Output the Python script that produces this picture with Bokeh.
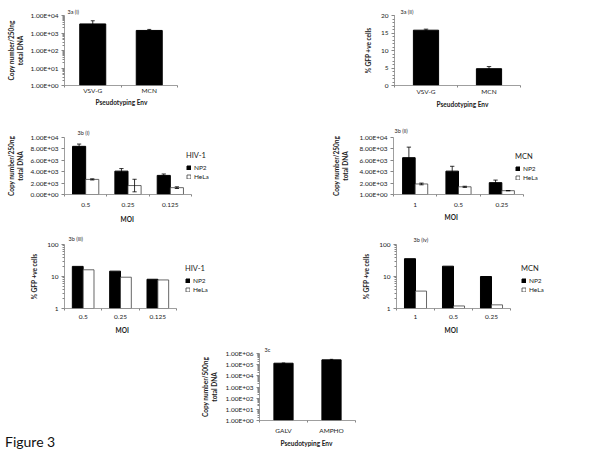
import math
from bokeh.plotting import figure
from bokeh.models import (Range1d, Legend, LegendItem, FixedTicker, Title, Div,
                          CustomJSTickFormatter, ColumnDataSource)
from bokeh.layouts import row, column
from bokeh.embed import file_html
from bokeh.resources import INLINE

FONT = "Lato"

# ---------------- data ----------------
env_a = ["VSV-G", "MCN"]
copies_a = [3300, 1400]
copies_a_err = [1700, 200]
gfp_a = [15.8, 4.8]
gfp_a_err = [0.3, 0.6]

moi_hiv = ["0.5", "0.25", "0.125"]
hiv_copies_np2 = [8450, 4100, 3350]
hiv_copies_np2_err = [400, 450, 250]
hiv_copies_hela = [2650, 1570, 1200]
hiv_copies_hela_err = [100, 1100, 150]

moi_mcn = ["1", "0.5", "0.25"]
mcn_copies_np2 = [6460, 4100, 2080]
mcn_copies_np2_err = [1850, 850, 450]
mcn_copies_hela = [1850, 1350, 670]
mcn_copies_hela_err = [150, 100, 0]

hiv_gfp_np2 = [20.7, 14.7, 8.2]
hiv_gfp_hela = [16.2, 9.5, 7.8]
mcn_gfp_np2 = [36, 21, 10]
mcn_gfp_hela = [3.5, 1.2, 1.3]

env_c = ["GALV", "AMPHO"]
copies_c = [1.35e5, 2.7e5]
copies_c_err = [0, 3e4]

ticks_log4 = [1, 10, 100, 1000, 10000]
ticks_gfp = [0, 5, 10, 15, 20]
ticks_lin_b1 = [0, 2000, 4000, 6000, 8000, 10000]
ticks_lin_b2 = [1, 2000, 4000, 6000, 8000, 10000]
ticks_log2 = [1, 10, 100]
ticks_log6 = [1, 10, 100, 1000, 10000, 100000, 1000000]

AXIS_COL = "#868686"
TXT = "#222222"
GEO = {}
# approximate rendered widths (px) of the bold x titles, used to centre them
TITLE_W = {"Pseudotyping Env": 50, "MOI": 12}


def efmt():
    return CustomJSTickFormatter(code="""
const s = tick.toExponential(2).toUpperCase();
const i = s.indexOf('E');
let e = s.slice(i + 2);
if (e.length < 2) { e = '0' + e; }
return s.slice(0, i) + 'E' + s[i + 1] + e;
""")


def plainfmt():
    return CustomJSTickFormatter(code="return String(Math.round(tick));")


def log_minor(ticks):
    out = []
    for t in ticks[:-1]:
        out += [t * k for k in range(2, 10)]
    return out


def make_panel(ox, oy, w, h, ax_x, ax_y, ax_top, ax_right, cats, ytype, y0, y1,
               yticks, yminor, yfmt, ylabel, xlabel, xl_center, tag, tag_x, tag_standoff,
               xt_standoff, xl_standoff, yt_standoff):
    n = len(cats)
    left = ax_x - ox
    top = ax_top - oy
    bottom = oy + h - ax_y
    fw = ox + w - ax_x
    rx = fw / (ax_right - ax_x)
    p = figure(width=w, height=h, x_range=Range1d(0, n * rx), y_range=Range1d(y0, y1),
               y_axis_type=ytype, output_backend="svg", toolbar_location=None, title=None,
               min_border_left=left, min_border_bottom=bottom, min_border_top=top,
               min_border_right=0)
    p.outline_line_color = None
    p.grid.visible = False
    p.background_fill_color = "white"
    p.border_fill_color = "white"
    xa, ya = p.xaxis[0], p.yaxis[0]
    xa.bounds = (0, n)
    xa.ticker = FixedTicker(ticks=[i + 0.5 for i in range(n)], minor_ticks=list(range(n + 1)))
    xa.formatter = CustomJSTickFormatter(args=dict(labels=cats),
                                         code="return labels[Math.floor(tick)];")
    ya.ticker = FixedTicker(ticks=yticks, minor_ticks=yminor)
    ya.formatter = yfmt
    for ax in (xa, ya):
        ax.axis_line_color = AXIS_COL
        ax.axis_line_width = 0.8
        ax.major_label_text_font = FONT
        ax.major_label_text_font_size = "6.5px"
        ax.major_label_text_color = TXT
        ax.axis_label_text_font = FONT
        ax.axis_label_text_font_size = "6.5px"
        ax.axis_label_text_font_style = "bold"
        ax.axis_label_text_color = TXT
        ax.major_tick_line_color = AXIS_COL
        ax.minor_tick_line_color = AXIS_COL
        ax.major_tick_in = 0
        ax.minor_tick_in = 0
    xa.major_tick_out = 0
    xa.minor_tick_out = 2
    xa.major_label_standoff = xt_standoff
    ya.major_tick_out = 3
    ya.minor_tick_out = 2
    ya.major_label_standoff = 3
    ya.axis_label_standoff = yt_standoff
    ya.axis_label = ylabel
    p.add_layout(Title(text=xlabel, align="left",
                       offset=xl_center - ax_x - TITLE_W[xlabel] / 2.0,
                       standoff=xl_standoff, text_font=FONT, text_font_size="6.5px",
                       text_font_style="bold", text_color=TXT), "below")
    p.add_layout(Title(text=tag, align="left", offset=tag_x - ax_x, standoff=tag_standoff,
                       text_font=FONT, text_font_size="5.5px", text_font_style="normal",
                       text_color=TXT), "above")
    GEO[p.id] = (ax_x, ax_y)
    return p


def err_bars(p, xs, vals, errs, capw):
    lo = [v - e for v, e in zip(vals, errs)]
    hi = [v + e for v, e in zip(vals, errs)]
    src = ColumnDataSource(dict(x=xs, xl=[x - capw for x in xs], xr=[x + capw for x in xs],
                                lo=lo, hi=hi))
    kw = dict(source=src, line_color="black", line_width=0.8)
    p.segment(x0="x", y0="lo", x1="x", y1="hi", **kw)
    p.segment(x0="xl", y0="lo", x1="xr", y1="lo", **kw)
    p.segment(x0="xl", y0="hi", x1="xr", y1="hi", **kw)


def single_bars(p, cats, vals, errs, bottom, width):
    xs = [i + 0.5 for i in range(len(cats))]
    src = ColumnDataSource(dict(x=xs, v=vals))
    p.vbar(x="x", top="v", bottom=bottom, width=width, fill_color="black",
           line_color="black", source=src)
    err_bars(p, xs, vals, errs, 0.035)


def grouped_bars(p, cats, np2, hela, np2_err, hela_err, bottom, bw):
    xn = [i + 0.5 - bw / 2 for i in range(len(cats))]
    xh = [i + 0.5 + bw / 2 for i in range(len(cats))]
    r1 = p.vbar(x=xn, top=np2, bottom=bottom, width=bw, fill_color="black", line_color="black")
    r2 = p.vbar(x=xh, top=hela, bottom=bottom, width=bw, fill_color="white",
                line_color="#404040", line_width=0.8)
    if np2_err is not None:
        err_bars(p, xn, np2, np2_err, 0.05)
        err_bars(p, xh, hela, hela_err, 0.05)
    return r1, r2


def add_legend(p, r1, r2, title, rx, ry_bottom):
    ax_x, ax_y = GEO[p.id]
    leg = Legend(items=[LegendItem(label="NP2", renderers=[r1]),
                        LegendItem(label="HeLa", renderers=[r2])],
                 title=title, location=(rx - ax_x, ax_y - ry_bottom))
    leg.border_line_color = None
    leg.background_fill_alpha = 0
    leg.padding = 0
    leg.margin = 0
    leg.spacing = 2
    leg.label_height = 7
    leg.glyph_height = 5
    leg.glyph_width = 5
    leg.label_standoff = 3
    leg.title_standoff = 4
    leg.label_text_font = FONT
    leg.label_text_font_size = "6.5px"
    leg.label_text_color = TXT
    leg.title_text_font = FONT
    leg.title_text_font_size = "7.5px"
    leg.title_text_font_style = "normal"
    leg.title_text_color = TXT
    p.add_layout(leg)


COPY250 = "Copy number/250ng\ntotal DNA"
GFP = "% GFP +ve cells"

# ---------- 3a (i) ----------
a1 = make_panel(0, 0, 300, 108, 64, 86, 14, 177, env_a, "log", 1, 1e4, ticks_log4,
                log_minor(ticks_log4), efmt(), COPY250, "Pseudotyping Env", 120,
                "3a (i)", 67, 1, -1, 0, 4)
single_bars(a1, env_a, copies_a, copies_a_err, 1, 0.46)

# ---------- 3a (ii) ----------
a2 = make_panel(300, 0, 300, 108, 394, 85, 15, 520, env_a, "linear", 0, 20, ticks_gfp,
                list(range(0, 21)), plainfmt(), GFP, "Pseudotyping Env", 461,
                "3a (ii)", 400, 2, 0, 2, 6)
single_bars(a2, env_a, gfp_a, gfp_a_err, 0, 0.40)

# ---------- 3b (i) ----------
b1 = make_panel(0, 108, 300, 118, 64, 196, 134, 191, moi_hiv, "linear", 0, 10000,
                ticks_lin_b1, [], efmt(), COPY250, "MOI", 126,
                "3b (i)", 77, 3, 6, 8, 4)
r1, r2 = grouped_bars(b1, moi_hiv, hiv_copies_np2, hiv_copies_hela,
                      hiv_copies_np2_err, hiv_copies_hela_err, 0, 0.31)
add_legend(b1, r1, r2, "HIV-1", 186, 182)

# ---------- 3b (ii) ----------
b2 = make_panel(300, 108, 300, 118, 393, 196, 137, 523, moi_mcn, "linear", 1, 10000,
                ticks_lin_b2, [], efmt(), COPY250, "MOI", 450,
                "3b (ii)", 394, 8, 6, 5, 8)
r1, r2 = grouped_bars(b2, moi_mcn, mcn_copies_np2, mcn_copies_hela,
                      mcn_copies_np2_err, mcn_copies_hela_err, 1, 0.29)
add_legend(b2, r1, r2, "MCN", 515, 183)

# ---------- 3b (iii) ----------
c1 = make_panel(0, 226, 300, 114, 64, 308, 244, 176, moi_hiv, "log", 1, 100, ticks_log2,
                log_minor(ticks_log2), plainfmt(), GFP, "MOI", 121,
                "3b (iii)", 68, 5, 4, 6, 6)
r1, r2 = grouped_bars(c1, moi_hiv, hiv_gfp_np2, hiv_gfp_hela, None, None, 1, 0.29)
add_legend(c1, r1, r2, "HIV-1", 185, 293)

# ---------- 3b (iv) ----------
c2 = make_panel(300, 226, 300, 114, 396, 308, 243, 510, moi_mcn, "log", 1, 100, ticks_log2,
                log_minor(ticks_log2), plainfmt(), GFP, "MOI", 450,
                "3b (iv)", 413, 4, 4, 6, 6)
r1, r2 = grouped_bars(c2, moi_mcn, mcn_gfp_np2, mcn_gfp_hela, None, None, 1, 0.29)
add_legend(c2, r1, r2, "MCN", 521, 293)

# ---------- Figure 3 caption ----------
f0 = Div(text='<div style="position:relative; left:5px; top:93px; font-family:Lato; '
              'font-size:14px; line-height:17px; color:#111111; white-space:nowrap;">'
              'Figure 3</div>',
         width=170, height=110, margin=0)

# ---------- 3c ----------
d1 = make_panel(170, 340, 210, 110, 259, 420, 353, 355, env_c, "log", 1, 1e6, ticks_log6,
                log_minor(ticks_log6), efmt(), "Copy number/500ng\ntotal DNA",
                "Pseudotyping Env", 305, "3c", 264, 2, 4, 2, 5)
single_bars(d1, env_c, copies_c, copies_c_err, 1, 0.40)

layout = column(row(a1, a2), row(b1, b2), row(c1, c2), row(f0, d1))

open("out.html", "w").write(file_html(layout, INLINE))
